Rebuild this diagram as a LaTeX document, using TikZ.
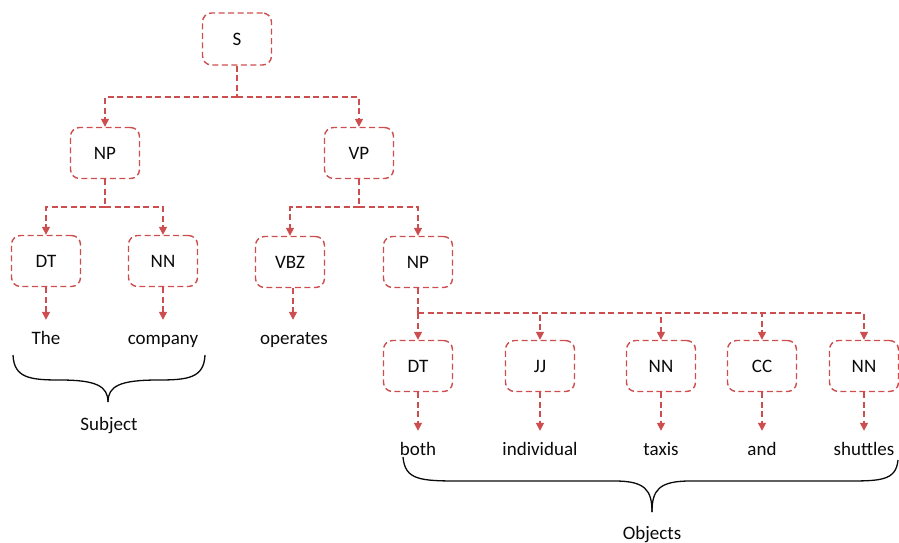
\documentclass[tikz,border=0pt]{standalone}
\usepackage{fontspec}
\setmainfont{Carlito}
\usetikzlibrary{arrows.meta}
\definecolor{tred}{RGB}{204,78,78}
\definecolor{ink}{RGB}{10,10,10}
\begin{document}
\begin{tikzpicture}[x=1pt,y=-1pt,
 font=\fontsize{19}{21}\selectfont,
 tag/.style={draw=tred,line width=1.4pt,dash pattern=on 6pt off 3.5pt,rounded corners=9pt,minimum width=69pt,minimum height=51pt,inner sep=0pt,text=ink},
 word/.style={anchor=base,inner xsep=1pt,inner ysep=13pt,text height=11pt,text depth=3pt,text=ink},
 conn/.style={draw=tred,line width=1.4pt,dash pattern=on 6pt off 3.5pt,-{Triangle[length=8pt,width=8pt]}},
 bus/.style={draw=tred,line width=1.4pt,dash pattern=on 6pt off 3.5pt},
 brace/.style={draw=ink,line width=1.3pt},
 lbl/.style={anchor=base,inner sep=1pt,text=ink}]
\useasboundingbox (0,0) rectangle (899,542);

% tags
\node[tag,minimum height=52pt] (S) at (237,39) {S};
\node[tag] (NP1) at (105,153) {NP};
\node[tag] (VP) at (359,153) {VP};
\node[tag] (DT1) at (46,261) {DT};
\node[tag] (NN1) at (163,261) {NN};
\node[tag] (VBZ) at (290,262) {VBZ};
\node[tag] (NP2) at (418,262) {NP};
\node[tag] (DT2) at (418,366) {DT};
\node[tag] (JJ) at (540,366) {JJ};
\node[tag] (NN2) at (661,366) {NN};
\node[tag] (CC) at (762,366) {CC};
\node[tag] (NN3) at (864,366) {NN};

% words
\node[word] (wThe) at (46,344) {The};
\node[word] (wcompany) at (163,344) {company};
\node[word] (woperates) at (294,344) {operates};
\node[word] (wboth) at (418,455) {both};
\node[word] (windividual) at (540,455) {individual};
\node[word] (wtaxis) at (661,455) {taxis};
\node[word] (wand) at (762,455) {and};
\node[word] (wshuttles) at (864,455) {shuttles};

% tree connectors
\coordinate (b1) at (237,97);
\draw[bus] (S.south) -- (b1);
\draw[conn] (b1) -| (NP1.north);
\draw[conn] (b1) -| (VP.north);

\coordinate (b2) at (105,207);
\draw[bus] (NP1.south) -- (b2);
\draw[conn] (b2) -| (DT1.north);
\draw[conn] (b2) -| (NN1.north);

\coordinate (b3) at (359,207);
\draw[bus] (VP.south) -- (b3);
\draw[conn] (b3) -| (VBZ.north);
\draw[conn] (b3) -| (NP2.north);

\coordinate (b4) at (418,313);
\draw[bus] (NP2.south) -- (b4);
\draw[conn] (b4) -- (DT2.north);
\draw[conn] (b4) -| (JJ.north);
\draw[conn] (b4) -| (NN2.north);
\draw[conn] (b4) -| (CC.north);
\draw[conn] (b4) -| (NN3.north);

% word connectors
\draw[conn] (DT1.south) -- (DT1.south |- wThe.north);
\draw[conn] (NN1.south) -- (NN1.south |- wcompany.north);
\draw[conn] (VBZ.south) ++(3,0) coordinate (v) -- (v |- woperates.north);
\draw[conn] (DT2.south) -- (DT2.south |- wboth.north);
\draw[conn] (JJ.south) -- (JJ.south |- windividual.north);
\draw[conn] (NN2.south) -- (NN2.south |- wtaxis.north);
\draw[conn] (CC.south) -- (CC.south |- wand.north);
\draw[conn] (NN3.south) -- (NN3.south |- wshuttles.north);

% braces
\draw[brace] (13,355) .. controls (14,378) and (30,380) .. (60,380)
  .. controls (96,380) and (108,386) .. (108,402);
\draw[brace] (205,355) .. controls (204,378) and (188,380) .. (158,380)
  .. controls (120,380) and (108,386) .. (108,402);
\node[lbl] (subj) at (109,430) {Subject};

\draw[brace] (403,457) .. controls (405,480) and (420,481) .. (460,481)
  -- (615,481) .. controls (645,481) and (652,490) .. (652,512);
\draw[brace] (898,460) .. controls (896,481) and (880,481) .. (845,481)
  -- (690,481) .. controls (659,481) and (652,490) .. (652,512);
\node[lbl] (obj) at (652,539) {Objects};
\end{tikzpicture}
\end{document}
